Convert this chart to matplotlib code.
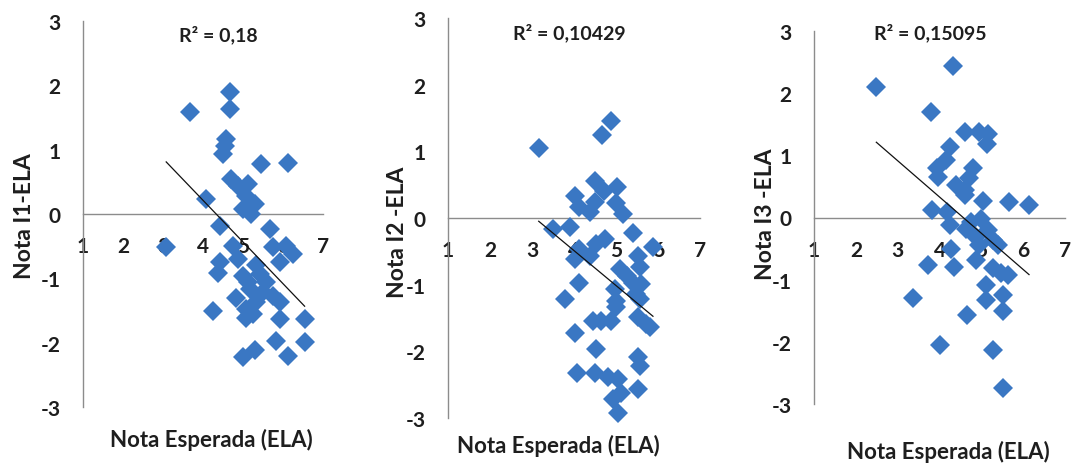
import numpy as np
import matplotlib
matplotlib.use("Agg")
import matplotlib.pyplot as plt

plt.rcParams['font.family'] = ['Lato', 'DejaVu Sans']

# ---------------- data ----------------
p1_x = [3.67, 4.67, 4.67, 4.58, 4.54, 4.50, 6.13, 5.46, 4.71, 4.88, 5.13, 4.08, 5.08, 5.29,
        5.00, 5.21, 4.42, 5.67, 3.08, 4.75, 5.75, 6.08, 6.25, 4.88, 4.42, 4.38, 5.92, 5.33,
        5.00, 5.42, 5.13, 5.58, 5.50, 5.17, 4.83, 5.75, 5.92, 5.33, 5.08, 4.25, 5.25, 5.08,
        5.92, 6.54, 5.83, 6.54, 5.29, 5.00, 6.13]
p1_y = [1.58, 1.89, 1.63, 1.17, 1.06, 0.93, 0.80, 0.78, 0.54, 0.44, 0.47, 0.23, 0.28, 0.16,
        0.08, 0.00, -0.18, -0.23, -0.52, -0.49, -0.52, -0.49, -0.62, -0.70, -0.75, -0.91, -0.75, -0.80,
        -0.96, -0.93, -1.06, -1.06, -1.22, -1.17, -1.30, -1.27, -1.37, -1.37, -1.48, -1.50, -1.55, -1.61,
        -1.63, -1.63, -1.97, -1.99, -2.12, -2.23, -2.20]

p2_x = [3.16, 4.89, 4.67, 4.51, 4.71, 5.03, 4.02, 4.49, 4.13, 4.37, 5.00, 5.17, 3.50, 3.91,
        5.40, 4.73, 4.53, 4.13, 4.37, 4.02, 5.88, 5.52, 5.56, 5.09, 5.25, 4.13, 5.40, 5.60,
        4.97, 5.48, 3.78, 5.01, 5.01, 5.56, 4.45, 4.65, 4.89, 5.52, 5.72, 5.80, 4.02, 4.53,
        5.52, 5.56, 4.06, 4.49, 4.81, 5.05, 5.13, 5.52, 4.93, 5.05]
p2_y = [1.05, 1.46, 1.24, 0.55, 0.41, 0.46, 0.33, 0.24, 0.16, 0.09, 0.23, 0.06, -0.17, -0.14,
        -0.22, -0.32, -0.39, -0.47, -0.57, -0.62, -0.44, -0.57, -0.74, -0.77, -0.87, -0.97, -0.97, -0.99,
        -1.07, -1.14, -1.22, -1.24, -1.34, -1.22, -1.54, -1.54, -1.54, -1.49, -1.59, -1.64, -1.72, -1.97,
        -2.09, -2.22, -2.32, -2.32, -2.39, -2.42, -2.62, -2.57, -2.72, -2.92]

p3_x = [2.49, 4.33, 3.79, 4.62, 4.95, 5.15, 5.13, 4.24, 4.16, 3.94, 4.79, 3.96, 4.71, 4.40,
        4.60, 4.60, 5.03, 5.65, 6.14, 3.83, 4.18, 4.75, 4.99, 4.24, 4.63, 5.15, 4.87, 5.27,
        4.28, 4.95, 5.39, 4.87, 3.72, 4.35, 5.27, 5.47, 5.63, 5.11, 3.37, 5.11, 5.51, 5.51,
        4.66, 4.00, 5.27, 5.51]
p3_y = [2.10, 2.44, 1.70, 1.37, 1.37, 1.35, 1.19, 1.13, 0.92, 0.79, 0.79, 0.65, 0.63, 0.52,
        0.44, 0.36, 0.26, 0.25, 0.20, 0.12, 0.09, -0.07, -0.02, -0.12, -0.18, -0.20, -0.31, -0.36,
        -0.50, -0.44, -0.44, -0.68, -0.76, -0.79, -0.82, -0.90, -0.93, -1.09, -1.30, -1.33, -1.25, -1.51,
        -1.57, -2.05, -2.13, -2.74]

y_labels = ["Nota I1-ELA", "Nota I2 -ELA", "Nota I3 -ELA"]
x_label = "Nota Esperada (ELA)"
r2_texts = ["R\u00b2 = 0,18", "R\u00b2 = 0,10429", "R\u00b2 = 0,15095"]
x_ticks = [1, 2, 3, 4, 5, 6, 7]
y_ticks = [-3, -2, -1, 0, 1, 2, 3]

# ---------------- layout ----------------
W, H = 1077, 464
fig = plt.figure(figsize=(W / 100, H / 100), dpi=100)
fig.patch.set_facecolor('white')

# axes boxes in pixels: (x_left, x_right, y_top, y_bottom)
boxes = [(83, 323, 22, 408), (448, 700, 19, 419), (814, 1065, 32, 405)]
# label centres in pixels
xlab_pos = [(211, 440), (558, 446), (948, 452)]
ylab_pos = [(25, 216), (397, 232), (765, 214)]
r2_pos = [(218, 35), (569, 33), (930, 33)]

marker_color = '#3a77c3'
axis_color = '#8c8c8c'
text_color = '#1e1e1e'
WEIGHT = 'bold'

datasets = [(p1_x, p1_y), (p2_x, p2_y), (p3_x, p3_y)]

for i, (xs, ys) in enumerate(datasets):
    xl, xr, yt, yb = boxes[i]
    ax = fig.add_axes([xl / W, 1 - yb / H, (xr - xl) / W, (yb - yt) / H])
    ax.set_facecolor('none')
    xs = np.array(xs)
    ys = np.array(ys)
    ax.plot(xs, ys, linestyle='none', marker='D', markersize=10.5,
            color=marker_color, markeredgewidth=0, zorder=3, clip_on=False)
    # linear trendline
    k, b = np.polyfit(xs, ys, 1)
    tx = np.array([xs.min(), xs.max()])
    ax.plot(tx, k * tx + b, color='#111111', linewidth=0.9, zorder=4)

    ax.set_xlim(1, 7)
    ax.set_ylim(-3, 3)
    for s in ['top', 'right']:
        ax.spines[s].set_visible(False)
    ax.spines['left'].set_position(('data', 1))
    ax.spines['bottom'].set_position(('data', 0))
    for s in ['left', 'bottom']:
        ax.spines[s].set_color(axis_color)
        ax.spines[s].set_linewidth(1.0)
    ax.set_xticks(x_ticks)
    ax.set_xticklabels([str(t) for t in x_ticks])
    ax.set_yticks(y_ticks)
    ax.set_yticklabels([str(t) for t in y_ticks])
    ax.tick_params(axis='both', length=0, labelsize=15, colors=text_color)
    ax.tick_params(axis='x', pad=16)
    ax.tick_params(axis='y', pad=16)
    for lab in ax.get_xticklabels() + ax.get_yticklabels():
        lab.set_fontweight(WEIGHT)

    fig.text(xlab_pos[i][0] / W, 1 - xlab_pos[i][1] / H, x_label, ha='center', va='center',
             fontsize=16, fontweight=WEIGHT, color=text_color)
    fig.text(ylab_pos[i][0] / W, 1 - ylab_pos[i][1] / H, y_labels[i], ha='center', va='center',
             rotation=90, fontsize=16.5, fontweight=WEIGHT, color=text_color)
    fig.text(r2_pos[i][0] / W, 1 - r2_pos[i][1] / H, r2_texts[i], ha='center', va='center',
             fontsize=14, fontweight=WEIGHT, color=text_color)

fig.savefig('out.png', dpi=100, facecolor='white')
